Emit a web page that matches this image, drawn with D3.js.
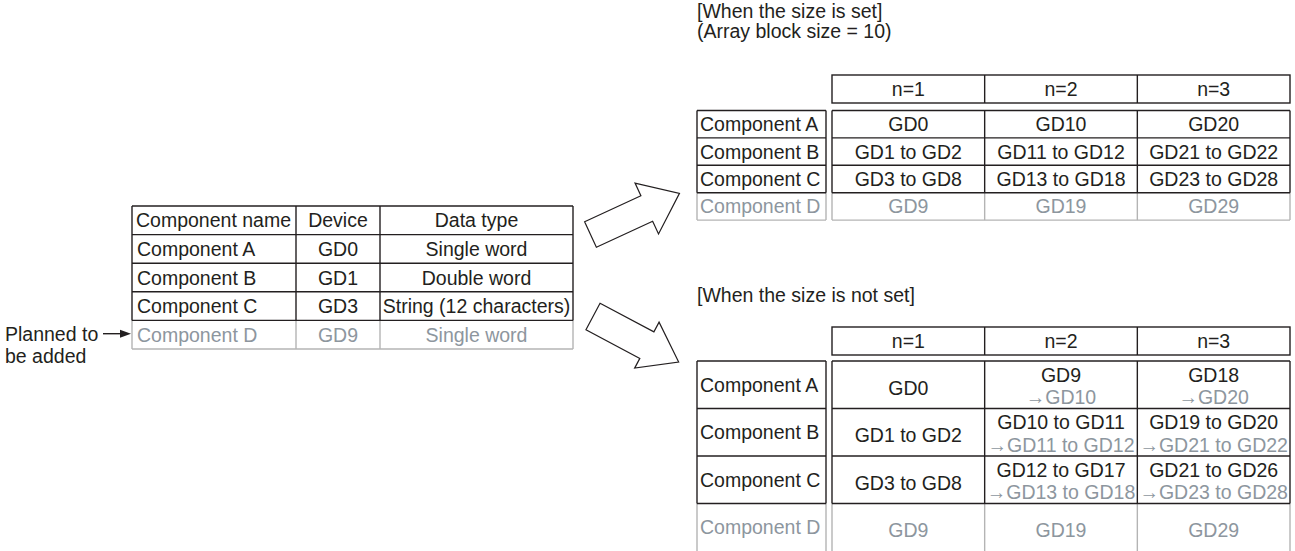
<!DOCTYPE html>
<html><head><meta charset="utf-8">
<script src="https://cdn.jsdelivr.net/npm/d3@7"></script>
<style>
html,body{margin:0;padding:0;background:#fff;}
svg{display:block;}
text{font-family:"Liberation Sans",Arial,sans-serif;}
</style></head>
<body>
<script>
// ---------- data ----------
const leftHeaders = ["Component name", "Device", "Data type"];
const components = ["Component A", "Component B", "Component C", "Component D"];
const devices = ["GD0", "GD1", "GD3", "GD9"];
const dataTypes = ["Single word", "Double word", "String (12 characters)", "Single word"];
const plannedIndex = 3;
const plannedNote = ["Planned to", "be added"];
const nLabels = ["n=1", "n=2", "n=3"];
const setTitle = ["[When the size is set]", "(Array block size = 10)"];
const notSetTitle = ["[When the size is not set]"];
const setCells = [
  ["GD0", "GD10", "GD20"],
  ["GD1 to GD2", "GD11 to GD12", "GD21 to GD22"],
  ["GD3 to GD8", "GD13 to GD18", "GD23 to GD28"],
  ["GD9", "GD19", "GD29"]
];
const notSetCells = [
  ["GD0", "GD9", "GD18"],
  ["GD1 to GD2", "GD10 to GD11", "GD19 to GD20"],
  ["GD3 to GD8", "GD12 to GD17", "GD21 to GD26"],
  ["GD9", "GD19", "GD29"]
];
const notSetShifted = [
  [null, "\u2192GD10", "\u2192GD20"],
  [null, "\u2192GD11 to GD12", "\u2192GD21 to GD22"],
  [null, "\u2192GD13 to GD18", "\u2192GD23 to GD28"],
  [null, null, null]
];

// ---------- style ----------
const W = 1295, H = 551;
const BLACK = "#231f20", GRAY_TXT = "#8d969e", GRAY_LINE = "#b4b4b4";
const FS = 19.5, LW = 1.4;

const svg = d3.select("body").append("svg").attr("width", W).attr("height", H);

function txt(g, x, y, s, opts = {}) {
  return g.append("text").attr("x", x).attr("y", y).attr("dy", "0.36em")
    .attr("font-size", opts.fs || FS)
    .attr("text-anchor", opts.anchor || "middle")
    .attr("fill", opts.fill || BLACK).text(s);
}
function line(g, x1, y1, x2, y2, c) {
  g.append("line").attr("x1", x1).attr("y1", y1).attr("x2", x2).attr("y2", y2)
    .attr("stroke", c).attr("stroke-width", LW);
}

// ---------- left table ----------
{
  const g = svg.append("g");
  const colEdges = [132, 296, 380, 573];
  const colX = d3.scaleOrdinal().domain([0, 1, 2]).range([0, 1, 2].map(i => colEdges[i]));
  const colW = i => colEdges[i + 1] - colEdges[i];
  const rowKeys = ["head"].concat(components);
  const y = d3.scaleBand().domain(rowKeys).range([206, 349]);
  const rows = [leftHeaders].concat(components.map((c, i) => [c, devices[i], dataTypes[i]]));
  rows.forEach((r, ri) => {
    const key = rowKeys[ri];
    const planned = ri - 1 === plannedIndex;
    const col = planned ? GRAY_TXT : BLACK;
    r.forEach((s, ci) => {
      const cx = ci === 0 ? (ri === 0 ? colX(0) + 4 : colX(0) + 5) : colX(ci) + colW(ci) / 2;
      txt(g, cx, y(key) + y.bandwidth() / 2, s, { anchor: ci === 0 ? "start" : "middle", fill: col });
    });
  });
  const top = y("head"), dTop = y(components[plannedIndex]), bottom = y.range()[1];
  // gray part (planned row)
  colEdges.forEach(x => line(g, x, dTop, x, bottom, GRAY_LINE));
  line(g, colEdges[0], bottom, colEdges[3], bottom, GRAY_LINE);
  // black part
  colEdges.forEach(x => line(g, x, top, x, dTop, BLACK));
  rowKeys.slice(0, plannedIndex + 2).forEach(k => line(g, colEdges[0], y(k), colEdges[3], y(k), BLACK));

  // planned note + pointer
  const py = y(components[plannedIndex]) + y.bandwidth() / 2;
  txt(g, 5, py - 1, plannedNote[0], { anchor: "start" });
  txt(g, 5, py + 21, plannedNote[1], { anchor: "start" });
  line(g, 103, py - 1, 123, py - 1, BLACK);
  g.append("path").attr("d", d3.line()([[131, py - 1], [120, py - 5], [120, py + 3]]) + "Z").attr("fill", BLACK);
}

// ---------- block arrows ----------
function blockArrow(tail, angle, len, shaft, head, headLen) {
  const pts = [[0, -shaft / 2], [len - headLen, -shaft / 2], [len - headLen, -head / 2], [len, 0],
    [len - headLen, head / 2], [len - headLen, shaft / 2], [0, shaft / 2]];
  svg.append("path").attr("d", d3.line()(pts) + "Z")
    .attr("transform", `translate(${tail[0]},${tail[1]}) rotate(${angle})`)
    .attr("fill", "#fff").attr("stroke", BLACK).attr("stroke-width", 1.2).attr("stroke-linejoin", "miter");
}
blockArrow([590.5, 234.5], -24.8, 98, 28, 56, 36);
blockArrow([593, 316.5], 28, 97, 30, 52, 36);

// ---------- right tables ----------
function rightTable(cfg) {
  const g = svg.append("g");
  cfg.title.forEach((t, i) => txt(g, 697, cfg.titleY + i * 19.5, t, { anchor: "start" }));
  const x = d3.scaleBand().domain(nLabels).range([832, 1290]);
  const y = d3.scaleBand().domain(components).range([cfg.bodyTop, cfg.bodyTop + cfg.rowH * components.length]);
  const labL = 697, labR = 826;
  // header box
  g.append("rect").attr("x", x.range()[0]).attr("y", cfg.headTop).attr("width", x.range()[1] - x.range()[0])
    .attr("height", cfg.headH).attr("fill", "none").attr("stroke", BLACK).attr("stroke-width", LW);
  nLabels.slice(1).forEach(n => line(g, x(n), cfg.headTop, x(n), cfg.headTop + cfg.headH, BLACK));
  nLabels.forEach(n => txt(g, x(n) + x.bandwidth() / 2, cfg.headTop + cfg.headH / 2, n));

  const dTop = y(components[plannedIndex]);
  const bTop = y(components[0]);
  const bBot = cfg.open ? H + 2 : y.range()[1];
  const vx = [labL, labR, x.range()[0], x.range()[1]].concat(nLabels.slice(1).map(n => x(n)));
  // gray lines for planned row
  vx.forEach(xx => line(g, xx, dTop, xx, bBot, GRAY_LINE));
  if (!cfg.open) {
    line(g, labL, bBot, labR, bBot, GRAY_LINE);
    line(g, x.range()[0], bBot, x.range()[1], bBot, GRAY_LINE);
  }
  // black lines
  vx.forEach(xx => line(g, xx, bTop, xx, dTop, BLACK));
  components.slice(0, plannedIndex + 1).forEach(c => {
    line(g, labL, y(c), labR, y(c), BLACK);
    line(g, x.range()[0], y(c), x.range()[1], y(c), BLACK);
  });

  components.forEach((c, ri) => {
    const planned = ri === plannedIndex;
    const col = planned ? GRAY_TXT : BLACK;
    const cy = y(c) + y.bandwidth() / 2;
    txt(g, labL + 3, cy + (cfg.labelDy || 0), c, { anchor: "start", fill: col });
    nLabels.forEach((n, ci) => {
      const cx = x(n) + x.bandwidth() / 2;
      const main = cfg.cells[ri][ci];
      const sub = cfg.sub ? cfg.sub[ri][ci] : null;
      if (sub) {
        txt(g, cx, y(c) + y.bandwidth() * 0.29, main, { fill: col });
        txt(g, cx, y(c) + y.bandwidth() * 0.76, sub, { fill: GRAY_TXT });
      } else {
        txt(g, cx, cy + (cfg.cellDy || 0), main, { fill: col });
      }
    });
  });
}

rightTable({ title: setTitle, titleY: 11, headTop: 75, headH: 28, bodyTop: 110.5, rowH: 27.4,
  cells: setCells, open: false });
rightTable({ title: notSetTitle, titleY: 295, headTop: 327, headH: 28, bodyTop: 361, rowH: 47.5,
  cells: notSetCells, sub: notSetShifted, open: true, cellDy: 3, labelDy: 0 });
</script>
</body></html>
